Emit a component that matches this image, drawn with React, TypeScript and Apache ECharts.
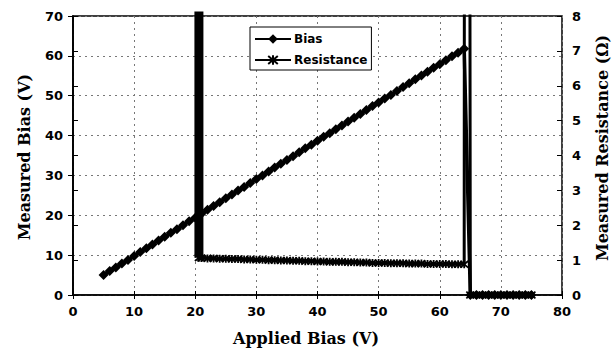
import React, { useEffect, useRef } from "react";
import * as echarts from "echarts";

// Applied bias (V) for the Bias series
const biasX = [5, 6, 7, 8, 9, 10, 11, 12, 13, 14, 15, 16, 17, 18, 19, 20, 21, 22, 23, 24, 25, 26, 27, 28, 29, 30, 31, 32, 33, 34, 35, 36, 37, 38, 39, 40, 41, 42, 43, 44, 45, 46, 47, 48, 49, 50, 51, 52, 53, 54, 55, 56, 57, 58, 59, 60, 61, 62, 63, 64, 65, 66, 67, 68, 69, 70, 71, 72, 73, 74, 75];
// Measured bias (V)
const biasY = [5.0, 6.0, 6.9, 7.9, 8.8, 9.8, 10.8, 11.7, 12.7, 13.7, 14.6, 15.6, 16.5, 17.5, 18.5, 19.4, 20.4, 21.4, 22.3, 23.3, 24.3, 25.2, 26.2, 27.1, 28.1, 29.1, 30.0, 31.0, 32.0, 32.9, 33.9, 34.8, 35.8, 36.8, 37.7, 38.7, 39.7, 40.6, 41.6, 42.5, 43.5, 44.5, 45.4, 46.4, 47.4, 48.3, 49.3, 50.2, 51.2, 52.2, 53.1, 54.1, 55.1, 56.0, 57.0, 57.9, 58.9, 59.9, 60.8, 61.8, 0, 0, 0, 0, 0, 0, 0, 0, 0, 0, 0];

// Applied bias (V) for the Resistance series
const resX = [20.6, 20.6, 21, 22, 23, 24, 25, 26, 27, 28, 29, 30, 31, 32, 33, 34, 35, 36, 37, 38, 39, 40, 41, 42, 43, 44, 45, 46, 47, 48, 49, 50, 51, 52, 53, 54, 55, 56, 57, 58, 59, 60, 61, 62, 63, 64, 64.3, 65, 66, 67, 68, 69, 70, 71, 72, 73, 74, 75];
// Measured resistance (Ohm); 100 = off scale
const resY = [100, 1.07, 1.06, 1.05, 1.05, 1.04, 1.04, 1.03, 1.03, 1.02, 1.02, 1.01, 1.01, 1.0, 1.0, 0.99, 0.99, 0.98, 0.98, 0.97, 0.97, 0.96, 0.96, 0.95, 0.95, 0.95, 0.94, 0.94, 0.93, 0.93, 0.92, 0.92, 0.92, 0.91, 0.91, 0.91, 0.9, 0.9, 0.9, 0.89, 0.89, 0.89, 0.89, 0.88, 0.88, 0.88, 100, 0, 0, 0, 0, 0, 0, 0, 0, 0, 0, 0];
// Dense run of resistance readings at the 20.6 V transition (Ohm range)
const transitionX = [20.6, 20.6];
const transitionY = [1.07, 9];

const xTicks = [0, 10, 20, 30, 40, 50, 60, 70, 80];
const leftTicks = [0, 10, 20, 30, 40, 50, 60, 70];
const rightTicks = [0, 1, 2, 3, 4, 5, 6, 7, 8];

const STAR = "path://M0,0L10,10M10,0L0,10M5,-1L5,11";

export default function App() {
  const ref = useRef<HTMLDivElement>(null);
  useEffect(() => {
    if (!ref.current) return;
    const chart = echarts.init(ref.current, null, { renderer: "svg" });
    const tickFont = { fontFamily: "DejaVu Sans", fontWeight: "bold" as const, fontSize: 13, color: "#000" };
    const titleFont = { fontFamily: "DejaVu Serif", fontWeight: "bold" as const, fontSize: 16, fill: "#000" };
    const grid = { left: 73, right: 53, top: 16, bottom: 59 };
    chart.setOption({
      animation: false,
      backgroundColor: "#fff",
      grid: { ...grid, show: true, borderColor: "#000", borderWidth: 1.5 },
      legend: {
        left: 250,
        top: 27,
        orient: "vertical",
        backgroundColor: "#fff",
        borderColor: "#000",
        borderWidth: 1,
        borderRadius: 0,
        padding: [6, 4, 4, 4],
        itemGap: 9,
        itemWidth: 36,
        itemHeight: 12,
        textStyle: { ...tickFont, fontSize: 12, padding: [0, 0, 0, -2] },
        data: ["Bias", "Resistance"],
      },
      xAxis: [
        {
          type: "value",
          min: xTicks[0],
          max: xTicks[xTicks.length - 1],
          interval: 10,
          axisLine: { show: true, lineStyle: { color: "#000", width: 1.5 } },
          axisTick: { show: true, length: 4, lineStyle: { color: "#000", width: 1 } },
          axisLabel: { ...tickFont, margin: 10 },
          splitLine: { show: true, lineStyle: { color: "#777", type: [2, 4], width: 1 } },
        },
        {
          type: "value",
          position: "bottom",
          min: 0,
          max: 80,
          interval: 10,
          axisLine: { show: false },
          axisTick: { show: true, inside: true, length: 4, lineStyle: { color: "#000", width: 1 } },
          axisLabel: { show: false },
          splitLine: { show: false },
        },
      ],
      yAxis: [
        {
          type: "value",
          min: leftTicks[0],
          max: leftTicks[leftTicks.length - 1],
          interval: 10,
          position: "left",
          axisLine: { show: true, lineStyle: { color: "#000", width: 1.5 } },
          axisTick: { show: true, length: 5, lineStyle: { color: "#000", width: 1 } },
          axisLabel: { ...tickFont, margin: 10 },
          splitLine: { show: true, lineStyle: { color: "#777", type: [2, 4], width: 1 } },
        },
        {
          type: "value",
          min: rightTicks[0],
          max: rightTicks[rightTicks.length - 1],
          interval: 1,
          position: "right",
          axisLine: { show: true, lineStyle: { color: "#000", width: 1.5 } },
          axisTick: { show: true, length: 5, lineStyle: { color: "#000", width: 1 } },
          axisLabel: { ...tickFont, margin: 10 },
          splitLine: { show: false },
        },
        {
          type: "value",
          min: 0,
          max: 8,
          interval: 1,
          position: "right",
          axisLine: { show: false },
          axisTick: { show: true, inside: true, length: 5, lineStyle: { color: "#000", width: 1 } },
          axisLabel: { show: false },
          splitLine: { show: false },
        },
      ],
      series: [
        {
          name: "Bias",
          type: "line",
          xAxisIndex: 0,
          yAxisIndex: 0,
          data: biasX.map((x, i) => [x, biasY[i]]),
          symbol: "diamond",
          symbolSize: 10,
          showAllSymbol: true,
          clip: true,
          lineStyle: { color: "#000", width: 3.5 },
          itemStyle: { color: "#000" },
          z: 3,
        },
        {
          name: "Resistance",
          type: "line",
          xAxisIndex: 0,
          yAxisIndex: 1,
          data: resX.map((x, i) => [x, resY[i]]),
          symbol: STAR,
          symbolSize: 8,
          showAllSymbol: true,
          clip: true,
          lineStyle: { color: "#000", width: 3 },
          itemStyle: { color: "#000", borderColor: "#000", borderWidth: 1.8 },
          z: 2,
        },
        {
          name: "Resistance",
          type: "line",
          xAxisIndex: 0,
          yAxisIndex: 1,
          data: transitionX.map((x, i) => [x, transitionY[i]]),
          symbol: "none",
          clip: true,
          silent: true,
          lineStyle: { color: "#000", width: 9, cap: "butt" },
          z: 2,
        },
      ],
      graphic: [
        {
          type: "text",
          x: 24,
          y: 157,
          rotation: Math.PI / 2,
          style: { text: "Measured Bias (V)", ...titleFont, align: "center", verticalAlign: "middle" },
        },
        {
          type: "text",
          x: 602,
          y: 148,
          rotation: Math.PI / 2,
          style: { text: "Measured Resistance (Ω)", ...titleFont, align: "center", verticalAlign: "middle" },
        },
        {
          type: "text",
          x: 306,
          y: 338,
          style: { text: "Applied Bias (V)", ...titleFont, align: "center", verticalAlign: "middle" },
        },
      ],
    });
    return () => chart.dispose();
  }, []);
  return <div ref={ref} style={{ width: 615, height: 354, position: "absolute", left: 0, top: 0 }} />;
}
